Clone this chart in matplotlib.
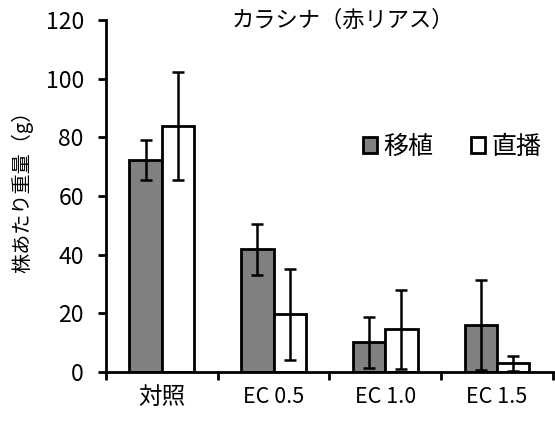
import numpy as np
import matplotlib.pyplot as plt

plt.rcParams['font.family'] = ['Noto Sans CJK JP', 'DejaVu Sans']

# 処理区ごとの株あたり重量（平均と標準偏差）
categories = ['対照', 'EC 0.5', 'EC 1.0', 'EC 1.5']
transplant = [72.3, 41.8, 10.1, 16.0]
transplant_err = [6.9, 8.7, 8.7, 15.4]
direct = [83.8, 19.6, 14.5, 3.0]
direct_err = [18.4, 15.5, 13.5, 2.6]

fig = plt.figure(figsize=(5.55, 4.3), dpi=100)
ax = fig.add_axes([0.191, 0.135, 0.805, 0.818])

x = np.arange(len(categories))
w = 0.29
err_kw = dict(elinewidth=1.8, capthick=1.8, capsize=4.5, ecolor='black')
ax.bar(x - w / 2, transplant, w, yerr=transplant_err, color='#808080',
       edgecolor='black', linewidth=2, label='移植', error_kw=err_kw)
ax.bar(x + w / 2, direct, w, yerr=direct_err, color='white',
       edgecolor='black', linewidth=2, label='直播', error_kw=err_kw)

ax.set_xlim(-0.5, len(categories) - 0.5)
ax.set_ylim(0, 120)
ax.set_yticks(np.arange(0, 121, 20))
ax.tick_params(axis='y', labelsize=16.5, width=2, length=6, direction='out',
               pad=10)

# 区切り位置に目盛り、中央にラベル
ax.set_xticks(np.arange(-0.5, len(categories), 1.0))
ax.set_xticklabels([])
ax.tick_params(axis='x', which='major', width=2, length=6, direction='out')
ax.set_xticks(x, minor=True)
ax.set_xticklabels(categories, minor=True, fontsize=15.5)
ax.tick_params(axis='x', which='minor', length=0, pad=10)
ax.get_xticklabels(minor=True)[0].set_fontsize(17)

for side in ['top', 'right']:
    ax.spines[side].set_visible(False)
for side in ['left', 'bottom']:
    ax.spines[side].set_linewidth(2)

ax.set_ylabel('株あたり重量（g）', fontsize=14.5)
ax.yaxis.set_label_coords(-0.163, 0.525)
ax.text(0.53, 1.0, 'カラシナ（赤リアス）', transform=ax.transAxes,
        ha='center', va='center', fontsize=16)

ax.legend(loc='center', bbox_to_anchor=(0.775, 0.64), ncol=2, frameon=False,
          fontsize=18, handlelength=0.56, handleheight=0.56,
          handletextpad=0.25, columnspacing=1.5)

fig.savefig('out.png', dpi=100)
